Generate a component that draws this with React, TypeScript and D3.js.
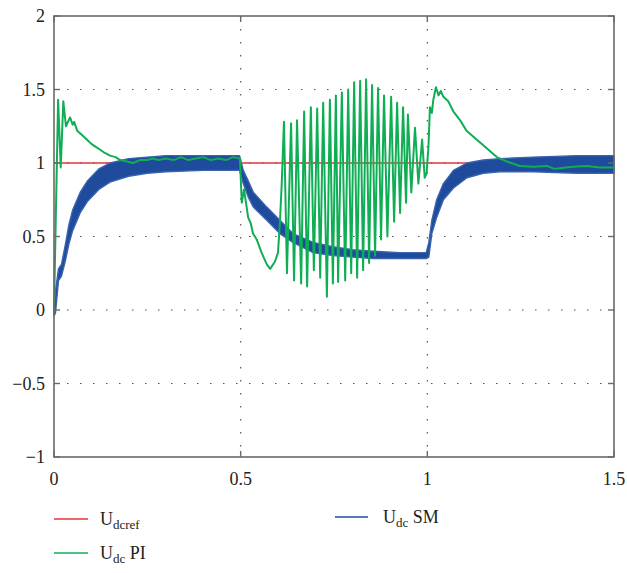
import * as d3 from "d3";

// time axis ticks and value axis ticks
const xTicks = [0, 0.5, 1, 1.5];
const yTicks = [-1, -0.5, 0, 0.5, 1, 1.5, 2];

// reference voltage
const refT = [0, 1.5];
const refV = [1, 1];

// SM controller: ripple band (upper / lower envelope)
const smT = [0, 0.004, 0.012, 0.02, 0.03, 0.04, 0.05, 0.07, 0.09, 0.12, 0.15, 0.2, 0.25, 0.3, 0.4, 0.497, 0.507, 0.52, 0.534, 0.57, 0.605, 0.64, 0.694, 0.747, 0.8, 0.855, 0.927, 0.997, 1.004, 1.012, 1.025, 1.043, 1.07, 1.106, 1.15, 1.195, 1.283, 1.4, 1.5];
const smHi = [0.0, 0.13, 0.28, 0.31, 0.44, 0.58, 0.68, 0.8, 0.88, 0.96, 1.0, 1.03, 1.04, 1.05, 1.05, 1.05, 0.95, 0.88, 0.8, 0.7, 0.61, 0.52, 0.46, 0.43, 0.41, 0.4, 0.39, 0.39, 0.46, 0.61, 0.75, 0.86, 0.95, 1.0, 1.02, 1.03, 1.04, 1.05, 1.05];
const smLo = [-0.04, -0.02, 0.2, 0.23, 0.33, 0.45, 0.54, 0.66, 0.74, 0.82, 0.87, 0.91, 0.93, 0.94, 0.95, 0.95, 0.86, 0.77, 0.7, 0.61, 0.52, 0.46, 0.39, 0.37, 0.36, 0.35, 0.35, 0.35, 0.36, 0.52, 0.63, 0.75, 0.83, 0.9, 0.93, 0.94, 0.94, 0.93, 0.93];

// PI controller
const piT = [
  0, 0.011, 0.018, 0.025, 0.032, 0.043, 0.05, 0.054, 0.062, 0.075, 0.088, 0.1, 0.118, 0.135, 0.15, 0.165, 0.177, 0.195, 0.212,
  0.23, 0.25, 0.265, 0.28, 0.3, 0.32, 0.34, 0.36, 0.38, 0.4, 0.42, 0.44, 0.46, 0.48, 0.498,
  0.503, 0.509, 0.516, 0.52, 0.527, 0.533, 0.543, 0.556, 0.57, 0.579, 0.592, 0.6, 0.605, 0.61,
  0.616, 0.624, 0.635, 0.643, 0.651, 0.662, 0.67, 0.678, 0.688, 0.696, 0.705, 0.713, 0.721, 0.731, 0.739, 0.747,
  0.755, 0.761, 0.771, 0.78, 0.788, 0.796, 0.804, 0.812, 0.82, 0.828, 0.836, 0.844, 0.852, 0.86, 0.868, 0.876,
  0.884, 0.893, 0.903, 0.911, 0.919, 0.927, 0.935, 0.943, 0.948, 0.957, 0.967, 0.976, 0.986, 0.993,
  0.998, 1.003, 1.007, 1.012, 1.016, 1.023, 1.03, 1.036, 1.043, 1.056, 1.07, 1.088, 1.105, 1.132, 1.159, 1.186, 1.213,
  1.248, 1.284, 1.32, 1.34, 1.355, 1.39, 1.427, 1.462, 1.5,
];
const piV = [
  0, 1.43, 0.97, 1.42, 1.25, 1.31, 1.26, 1.28, 1.22, 1.19, 1.16, 1.13, 1.1, 1.07, 1.05, 1.04, 1.02, 1.01, 1.0,
  1.02, 1.02, 1.03, 1.02, 1.03, 1.02, 1.04, 1.02, 1.03, 1.04, 1.02, 1.03, 1.02, 1.04, 1.03,
  0.73, 0.82, 0.7, 0.63, 0.59, 0.52, 0.48, 0.39, 0.31, 0.28, 0.33, 0.39, 0.59, 0.86,
  1.28, 0.25, 1.27, 0.2, 1.29, 0.18, 1.35, 0.16, 1.38, 0.27, 1.37, 0.22, 1.41, 0.09, 1.43, 0.18,
  1.46, 0.19, 1.48, 0.2, 1.5, 0.25, 1.55, 0.22, 1.56, 0.27, 1.57, 0.32, 1.53, 0.37, 1.51, 0.48,
  1.46, 0.5, 1.45, 0.6, 1.41, 0.66, 1.38, 0.73, 1.33, 0.8, 1.24, 0.86, 1.16, 0.9,
  0.93, 1.11, 1.38, 1.34, 1.43, 1.515, 1.46, 1.49, 1.45, 1.42, 1.35, 1.29, 1.22, 1.16, 1.1, 1.04, 1.01,
  0.98, 0.975, 0.98, 0.96, 0.965, 0.975, 0.98, 0.97, 0.97,
];

const RED = "#e5323b";
const BLUE = "#1e4b9c";
const GREEN = "#0fae55";
const AXIS = "#6a6a6a";
const FONT = "'Liberation Serif', 'DejaVu Serif', serif";

export default function App() {
  const width = 627, height = 573;
  const left = 54, right = 614, top = 16, bottom = 457;

  const x = d3.scaleLinear().domain([0, 1.5]).range([left, right]);
  const y = d3.scaleLinear().domain([-1, 2]).range([bottom, top]);

  const refPath = d3.line<number>().x(t => x(t)).y((_, i) => y(refV[i]))(refT);
  const piPath = d3.line<number>().x(t => x(t)).y((_, i) => y(piV[i]))(piT);
  const smPath = d3.area<number>()
    .x(t => x(t))
    .y0((_, i) => y(smLo[i]))
    .y1((_, i) => y(smHi[i]))(smT);

  const tick = 6;

  return (
    <svg width={width} height={height} style={{ display: "block", position: "absolute", left: 0, top: 0 }}>
      <rect width={width} height={height} fill="#fff" />

      {/* grid */}
      <g stroke="#555" strokeWidth={1.2} strokeDasharray="1.5,11.5">
        {xTicks.slice(1, -1).map(t => (
          <line key={"gx" + t} x1={x(t)} x2={x(t)} y1={top} y2={bottom} />
        ))}
        {yTicks.slice(1, -1).map(v => (
          <line key={"gy" + v} x1={left} x2={right} y1={y(v)} y2={y(v)} />
        ))}
      </g>

      {/* series */}
      <path d={refPath ?? ""} fill="none" stroke={RED} strokeWidth={1.3} />
      <path d={smPath ?? ""} fill={BLUE} stroke="#3a63ad" strokeWidth={1.4} strokeLinejoin="round" />
      <path d={piPath ?? ""} fill="none" stroke={GREEN} strokeWidth={2} strokeLinejoin="round" />

      {/* frame and ticks */}
      <rect x={left} y={top} width={right - left} height={bottom - top} fill="none" stroke={AXIS} strokeWidth={1.6} />
      <g stroke={AXIS} strokeWidth={1.4}>
        {yTicks.map(v => (
          <g key={"ty" + v}>
            <line x1={left} x2={left + tick} y1={y(v)} y2={y(v)} />
            <line x1={right} x2={right - tick} y1={y(v)} y2={y(v)} />
          </g>
        ))}
        {xTicks.map(t => (
          <g key={"tx" + t}>
            <line x1={x(t)} x2={x(t)} y1={bottom} y2={bottom - tick} />
            <line x1={x(t)} x2={x(t)} y1={top} y2={top + tick} />
          </g>
        ))}
      </g>

      {/* tick labels */}
      <g fontFamily={FONT} fontSize={18} fill="#222">
        {yTicks.map(v => (
          <text key={"ly" + v} x={left - 9} y={y(v)} dy="0.35em" textAnchor="end">
            {v < 0 ? "\u2212" + Math.abs(v) : String(v)}
          </text>
        ))}
        {xTicks.map(t => (
          <text key={"lx" + t} x={x(t)} y={bottom + 28} textAnchor="middle">
            {String(t)}
          </text>
        ))}
      </g>

      {/* legend */}
      <g fontFamily={FONT} fill="#222">
        <line x1={54} x2={88} y1={519} y2={519} stroke={RED} strokeWidth={1.5} />
        <text x={100} y={525} fontSize={18}>
          U<tspan fontSize={13} dy={4}>dcref</tspan>
        </text>
        <line x1={335} x2={368} y1={517} y2={517} stroke={BLUE} strokeWidth={1.5} />
        <text x={383} y={523} fontSize={18}>
          U<tspan fontSize={13} dy={4}>dc</tspan><tspan dy={-4}> SM</tspan>
        </text>
        <line x1={54} x2={88} y1={553} y2={553} stroke={GREEN} strokeWidth={1.5} />
        <text x={100} y={559} fontSize={18}>
          U<tspan fontSize={13} dy={4}>dc</tspan><tspan dy={-4}> PI</tspan>
        </text>
      </g>
    </svg>
  );
}
